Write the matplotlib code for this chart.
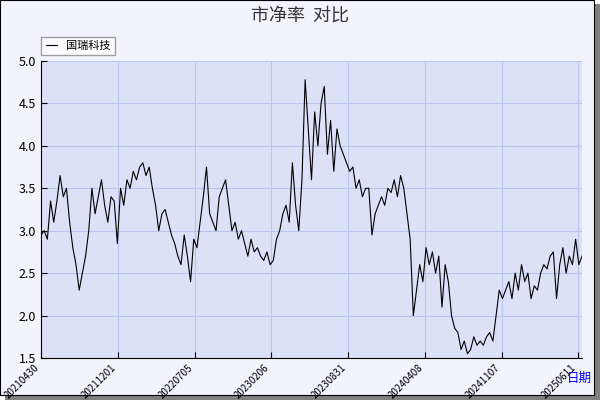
import matplotlib.pyplot as plt
from matplotlib.patches import Rectangle

plt.rcParams['font.family'] = ['Noto Sans CJK SC', 'DejaVu Sans']

# price-to-book values left to right
pb = [2.95, 3.0, 2.9, 3.35, 3.1, 3.35, 3.65, 3.4, 3.5,
      3.1, 2.8, 2.6, 2.3, 2.5, 2.7, 3.0, 3.5, 3.2, 3.4,
      3.6, 3.3, 3.1, 3.4, 3.35, 2.85, 3.5, 3.3, 3.6, 3.5,
      3.7, 3.6, 3.75, 3.8, 3.65, 3.75, 3.5, 3.3, 3.0,
      3.2, 3.25, 3.1, 2.95, 2.85, 2.7, 2.6, 2.95, 2.7,
      2.4, 2.9, 2.8, 3.1, 3.4, 3.75, 3.2, 3.1,
      3.0, 3.4, 3.5, 3.6, 3.3, 3.0, 3.1, 2.9, 3.0, 2.85, 2.7, 2.9, 2.75,
      2.8, 2.7, 2.65, 2.75, 2.6, 2.65, 2.9, 3.0, 3.2, 3.3, 3.1,
      3.8, 3.3, 3.0, 3.6, 4.78, 4.2, 3.6, 4.4, 4.0,
      4.5, 4.7, 3.9, 4.3, 3.7, 4.2, 4.0, 3.9,
      3.8, 3.7, 3.75, 3.5, 3.6, 3.4, 3.5, 3.5, 2.95, 3.2, 3.3, 3.4,
      3.3, 3.5, 3.45, 3.6, 3.4, 3.65, 3.5, 3.2,
      2.9, 2.0, 2.3, 2.6, 2.4, 2.8, 2.6, 2.75, 2.5, 2.7, 2.1,
      2.6, 2.4, 2.0, 1.85, 1.8, 1.6, 1.7, 1.55, 1.6, 1.75, 1.65, 1.7,
      1.65, 1.75, 1.8, 1.7, 2.0, 2.3, 2.2, 2.3, 2.4, 2.2, 2.5, 2.3, 2.6, 2.4,
      2.5, 2.2, 2.35, 2.3, 2.5, 2.6, 2.55, 2.7, 2.75, 2.2, 2.6, 2.8,
      2.5, 2.7, 2.6, 2.9, 2.6, 2.7]
tick_labels = ['20210430', '20211201', '20220705', '20230206',
               '20230831', '20240408', '20241107', '20250611']
tick_px = [41, 118, 195, 271, 348, 425, 502, 578]

fig = plt.figure(figsize=(6, 4), dpi=100, facecolor='white')
fig.patches.append(Rectangle((0.008, 0.0), 0.992, 0.99, transform=fig.transFigure,
                             facecolor='#808080', zorder=-2))
fig.patches.append(Rectangle((0.0, 0.012), 0.99, 0.988, transform=fig.transFigure,
                             facecolor='#f2f3fb', edgecolor='black', lw=0.8, zorder=-1))

ax = fig.add_axes([41/600, 1-358/400, 541/600, 297/400])
ax.set_facecolor('#dbe1f6')
n = len(pb)
ax.plot(range(n), pb, color='black', lw=0.8, label='国瑞科技')
ax.set_xlim(0, n - 1)
ax.set_ylim(1.5, 5.0)
ax.set_yticks([1.5, 2.0, 2.5, 3.0, 3.5, 4.0, 4.5, 5.0])
ax.set_yticklabels(['1.5', '2.0', '2.5', '3.0', '3.5', '4.0', '4.5', '5.0'], fontsize=9)
xt = [(p - 41) / 541 * (n - 1) for p in tick_px]
ax.set_xticks(xt)
ax.set_xticklabels(tick_labels, rotation=45, ha='right', fontsize=7)
ax.grid(True, color='#b8c6ec', lw=0.8)
for s in ['top', 'right']:
    ax.spines[s].set_visible(False)
ax.tick_params(direction='in', length=4)

fig.text(0.5, 0.96, '市净率  对比', ha='center', va='center', fontsize=13, color='#333333')
fig.text(0.965, 0.045, '日期', color='blue', fontsize=9, ha='center')
ax.legend(loc='lower left', bbox_to_anchor=(-0.01, 1.0), fontsize=8, frameon=True,
          fancybox=False, edgecolor='#888888', handlelength=1.0)

fig.savefig('out.png', dpi=100, facecolor=fig.get_facecolor())
